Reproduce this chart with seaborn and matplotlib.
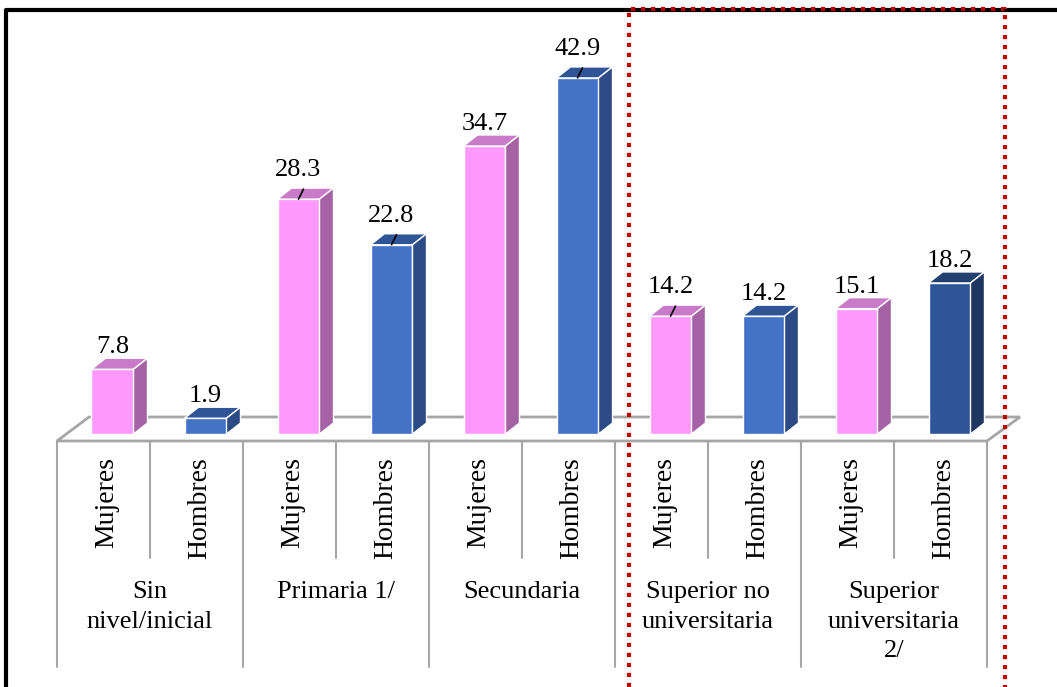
import numpy as np
import pandas as pd
import matplotlib
matplotlib.use('Agg')
import matplotlib.pyplot as plt
from matplotlib.patches import Polygon
import seaborn as sns

sns.set_style('white')
plt.rcParams['font.family'] = ['Liberation Serif', 'DejaVu Serif']
plt.rcParams['text.color'] = 'black'

#%% DATA
groups = ['Sin\nnivel/inicial', 'Primaria 1/', 'Secundaria',
          'Superior no\nuniversitaria', 'Superior\nuniversitaria\n2/']
sexes = ['Mujeres', 'Hombres']
values = [7.8, 1.9, 28.3, 22.8, 34.7, 42.9, 14.2, 14.2, 15.1, 18.2]
value_labels = ['7.8', '1.9', '28.3', '22.8', '34.7', '42.9', '14.2', '14.2', '15.1', '18.2']
has_leader = [False, False, True, True, False, True, True, False, False, False]

bar_ids = ['{}|{}'.format(g, s) for g in groups for s in sexes]
bar_sex = [s for g in groups for s in sexes]
df = pd.DataFrame({'bar': bar_ids, 'sex': bar_sex, 'value': values})

#%% STYLE
pink = ('#FF99FF', '#C97AC9', '#A563A5')      # front, top, side
blue = ('#4472C4', '#2F5597', '#2C4A86')
dark = ('#2E5597', '#22406F', '#1F3660')
shades = [pink if s == 'Mujeres' else blue for s in bar_sex]
shades[-1] = dark

W, H = 1057, 687
fig = plt.figure(figsize=(W / 100, H / 100), dpi=100)
ax = fig.add_axes([0, 0, 1, 1])

# pixel <-> data mapping
px_per_cat = 93.0
px_per_unit = 8.3
x0_px, y0_px = 103.5, 434.0


def px2x(px):
    return (px - x0_px) / px_per_cat


def py2y(py):
    return (y0_px - py) / px_per_unit


bar_w = 42 / px_per_cat
bar_shift = 9 / px_per_cat
ddx = 14 / px_per_cat
ddy = 11 / px_per_unit

# floor
floor = Polygon([(px2x(57), py2y(441)), (px2x(89), py2y(417)),
                 (px2x(1020), py2y(417)), (px2x(987), py2y(441))],
                closed=True, facecolor='white', edgecolor='#A6A6A6', lw=2, zorder=1)
ax.add_patch(floor)

sns.barplot(data=df, x='bar', y='value', hue='bar', order=bar_ids, hue_order=bar_ids,
            palette={b: c[0] for b, c in zip(bar_ids, shades)}, saturation=1,
            width=bar_w, legend=False, errorbar=None, ax=ax,
            edgecolor='white', linewidth=1, zorder=3)

bars = sorted([p for p in ax.patches if p is not floor], key=lambda p: p.get_x())
for i, p in enumerate(bars):
    p.set_x(p.get_x() + bar_shift)
    x, w, h = p.get_x(), p.get_width(), p.get_height()
    top = Polygon([(x, h), (x + ddx, h + ddy), (x + w + ddx, h + ddy), (x + w, h)],
                  closed=True, facecolor=shades[i][1], edgecolor='white', lw=1, zorder=3)
    side = Polygon([(x + w, 0), (x + w, h), (x + w + ddx, h + ddy), (x + w + ddx, ddy)],
                   closed=True, facecolor=shades[i][2], edgecolor='white', lw=1, zorder=3)
    ax.add_patch(top)
    ax.add_patch(side)
    cx = x + w / 2
    if has_leader[i]:
        ax.plot([cx, cx + 5 / px_per_cat], [h, h + ddy - 1 / px_per_unit],
                color='black', lw=1.2, zorder=4)
        ty = h + ddy + 12 / px_per_unit
    else:
        ty = h + ddy + 5 / px_per_unit
    ax.text(cx, ty, value_labels[i], ha='center', va='baseline', fontsize=19, zorder=5)

# category separators and labels
for k in range(len(bar_ids) + 1):
    long_line = (k % 2 == 0)
    bottom = 667 if long_line else 558
    ax.plot([k - 0.5, k - 0.5], [py2y(441), py2y(bottom)], color='#A6A6A6', lw=1.5, zorder=1)

for k, s in enumerate(bar_sex):
    ax.text(k + 0.03, py2y(457), s, rotation=90, ha='center', va='top', fontsize=20)

for j, g in enumerate(groups):
    ax.text(2 * j + 0.5, py2y(581), g, ha='center', va='top', fontsize=19,
            linespacing=1.45, multialignment='center')

ax.set_xlim(px2x(0), px2x(W))
ax.set_ylim(py2y(H), py2y(0))
ax.axis('off')

# frame lines (black on top/left, red dotted box)
def fig_line(xs, ys, **kw):
    fig.add_artist(plt.Line2D([x / W for x in xs], [1 - y / H for y in ys],
                              transform=fig.transFigure, **kw))

fig_line([6, 6, W], [H, 10, 10], color='black', lw=3, solid_capstyle='butt')
fig_line([629, 629, 1005, 1005], [H, 9, 9, H], color='#C00000', lw=3,
         linestyle=(0, (1, 1.4)), dash_capstyle='butt')

fig.savefig('out.png', dpi=100)
